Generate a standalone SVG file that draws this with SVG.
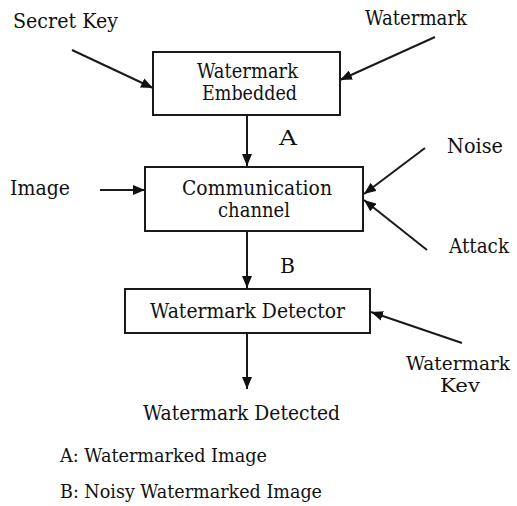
<svg xmlns="http://www.w3.org/2000/svg" width="517" height="506" viewBox="0 0 517 506" font-family="DejaVu Serif, Liberation Serif, serif">
<style>
.box{fill:#fff;stroke:#1a1a1a;stroke-width:2}
.ln{stroke:#1a1a1a;stroke-width:2;fill:none;marker-end:url(#ah)}
.t{font-size:21px;fill:#111}
.k{font-size:19px;fill:#111}
.lg{font-size:18px;fill:#111}
</style>
<defs>
<marker id="ah" viewBox="0 0 12 10" refX="12" refY="5" markerWidth="12" markerHeight="10" markerUnits="userSpaceOnUse" orient="auto">
<path d="M0,0 L12,5 L0,10 Z" fill="#111"/>
</marker>
</defs>
<rect width="517" height="506" fill="#fff"/>
<g id="connectors">
<line class="ln" x1="72" y1="50" x2="153" y2="88"/>
<line class="ln" x1="435" y1="37" x2="340" y2="80"/>
<line class="ln" x1="247" y1="115" x2="247" y2="166"/>
<line class="ln" x1="100" y1="190" x2="145" y2="190"/>
<line class="ln" x1="425" y1="148" x2="364" y2="194"/>
<line class="ln" x1="427" y1="250" x2="364" y2="200"/>
<line class="ln" x1="247" y1="231" x2="247" y2="288"/>
<line class="ln" x1="462" y1="343" x2="371" y2="312"/>
<line class="ln" x1="247" y1="333" x2="247" y2="389"/>
</g>
<g id="embed">
<rect class="box" x="153" y="52" width="187" height="63"/>
<text class="t" x="197" y="78" textLength="101" lengthAdjust="spacingAndGlyphs">Watermark</text>
<text class="t" x="202" y="100" textLength="95" lengthAdjust="spacingAndGlyphs">Embedded</text>
</g>
<g id="channel">
<rect class="box" x="145" y="167" width="218" height="64"/>
<text class="t" x="182" y="195" textLength="150" lengthAdjust="spacingAndGlyphs">Communication</text>
<text class="t" x="218" y="217" textLength="72" lengthAdjust="spacingAndGlyphs">channel</text>
</g>
<g id="detector">
<rect class="box" x="125" y="289" width="245" height="44"/>
<text class="t" x="150" y="318" textLength="195" lengthAdjust="spacingAndGlyphs">Watermark  Detector</text>
</g>
<g id="secret-key"><text class="t" x="13" y="28" textLength="105" lengthAdjust="spacingAndGlyphs">Secret Key</text></g>
<g id="watermark-in"><text class="t" x="365" y="25" textLength="102" lengthAdjust="spacingAndGlyphs">Watermark</text></g>
<g id="image-in"><text class="t" x="10" y="195" textLength="60" lengthAdjust="spacingAndGlyphs">Image</text></g>
<g id="noise"><text class="t" x="447" y="153" textLength="56" lengthAdjust="spacingAndGlyphs">Noise</text></g>
<g id="attack"><text class="t" x="449" y="253" textLength="60" lengthAdjust="spacingAndGlyphs">Attack</text></g>
<g id="label-a"><text class="t" x="279" y="145" textLength="18" lengthAdjust="spacingAndGlyphs">A</text></g>
<g id="label-b"><text class="t" x="280" y="273" textLength="15" lengthAdjust="spacingAndGlyphs">B</text></g>
<g id="wm-key"><text class="k" x="406" y="370" textLength="104" lengthAdjust="spacingAndGlyphs">Watermark</text><text class="k" x="440" y="392" textLength="40" lengthAdjust="spacingAndGlyphs">Kev</text></g>
<g id="detected"><text class="t" x="143" y="420" textLength="197" lengthAdjust="spacingAndGlyphs">Watermark  Detected</text></g>
<g id="legend">
<text class="lg" x="60" y="462" textLength="207" lengthAdjust="spacingAndGlyphs">A: Watermarked Image</text>
<text class="lg" x="60" y="498" textLength="262" lengthAdjust="spacingAndGlyphs">B: Noisy Watermarked Image</text>
</g>
</svg>
